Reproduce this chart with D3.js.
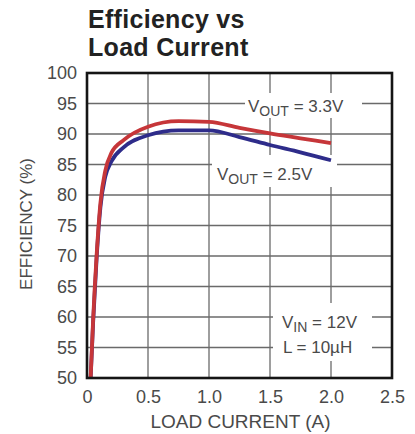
<!DOCTYPE html>
<html>
<head>
<meta charset="utf-8">
<script src="https://cdn.jsdelivr.net/npm/d3@7"></script>
<style>
  body { margin: 0; background: #ffffff; }
  svg text { font-family: "Liberation Sans", Arial, sans-serif; }
</style>
</head>
<body>
<svg id="sketchbook" width="415" height="434"></svg>
<script>
// load current (A) where the curves were read
let current = [0.03, 0.05, 0.08, 0.11, 0.15, 0.2, 0.3, 0.5, 0.75, 1.0, 1.25, 1.5, 1.75, 2.0];
// efficiency (%) for each output
let eff33 = [50, 59.5, 70.5, 78.7, 84.0, 86.9, 89.0, 91.2, 92.1, 92.0, 91.0, 90.1, 89.3, 88.5];
let eff25 = [50, 59.0, 70.0, 78.0, 83.0, 85.5, 87.8, 89.8, 90.6, 90.6, 89.5, 88.2, 87.0, 85.7];
let xTicks = [0, 0.5, 1.0, 1.5, 2.0, 2.5];
let xTickLabels = ['0', '0.5', '1.0', '1.5', '2.0', '2.5'];
let yTicks = [50, 55, 60, 65, 70, 75, 80, 85, 90, 95, 100];
let titleLines = ['Efficiency vs', 'Load Current'];

let svg = d3.select('#sketchbook');
let plot = { left: 87, right: 392, top: 73, bottom: 378 };

let x = d3.scaleLinear().domain([0, 2.5]).range([plot.left, plot.right]);
let y = d3.scaleLinear().domain([50, 100]).range([plot.bottom, plot.top]);

function drawTitle () {
    svg.selectAll('text.title')
        .data(titleLines)
        .enter()
        .append('text')
        .attr('class', 'title')
        .attr('x', 88)
        .attr('y', (d, i) => { return 28 + i * 28; })
        .attr('font-size', 25)
        .attr('font-weight', 'bold')
        .attr('fill', '#222222')
        .attr('letter-spacing', 0.3)
        .text((d) => { return d; });
}

function drawGrid () {
    let g = svg.append('g').attr('class', 'grid');

    g.selectAll('line.vx')
        .data(xTicks.slice(1, -1))
        .enter()
        .append('line')
        .attr('class', 'vx')
        .attr('x1', (d) => { return x(d); })
        .attr('x2', (d) => { return x(d); })
        .attr('y1', plot.top)
        .attr('y2', plot.bottom)
        .attr('stroke', '#6a6a6a')
        .attr('stroke-width', 1.3);

    g.selectAll('line.hy')
        .data(yTicks.slice(1, -1))
        .enter()
        .append('line')
        .attr('class', 'hy')
        .attr('x1', plot.left)
        .attr('x2', plot.right)
        .attr('y1', (d) => { return y(d); })
        .attr('y2', (d) => { return y(d); })
        .attr('stroke', '#6a6a6a')
        .attr('stroke-width', 1.3);
}

function drawAxes () {
    let xAxis = d3.axisBottom(x)
        .tickValues(xTicks)
        .tickFormat((d, i) => { return xTickLabels[i]; })
        .tickSize(0)
        .tickPadding(12);
    let gx = svg.append('g')
        .attr('transform', 'translate(0,' + plot.bottom + ')')
        .call(xAxis);

    let yAxis = d3.axisLeft(y)
        .tickValues(yTicks)
        .tickSize(0)
        .tickPadding(10);
    let gy = svg.append('g')
        .attr('transform', 'translate(' + plot.left + ',0)')
        .call(yAxis);

    [gx, gy].forEach((g) => {
        g.select('.domain').remove();
        g.selectAll('text')
            .attr('font-family', '"Liberation Sans", Arial, sans-serif')
            .attr('font-size', 18)
            .attr('fill', '#4a4a4a');
    });

    svg.append('text')
        .attr('x', (plot.left + plot.right) / 2 + 1)
        .attr('y', 428)
        .attr('text-anchor', 'middle')
        .attr('font-size', 19)
        .attr('fill', '#4a4a4a')
        .text('LOAD CURRENT (A)');

    svg.append('text')
        .attr('transform', 'translate(32,224) rotate(-90)')
        .attr('text-anchor', 'middle')
        .attr('font-size', 17)
        .attr('fill', '#4a4a4a')
        .text('EFFICIENCY (%)');
}

function drawCurves () {
    let line = d3.line()
        .x((d) => { return x(d[0]); })
        .y((d) => { return y(d[1]); })
        .curve(d3.curveMonotoneX);

    let series = [
        { code: 'v25', values: eff25, color: '#2e2c8a' },
        { code: 'v33', values: eff33, color: '#c63639' },
    ];

    svg.selectAll('path.curve')
        .data(series, (d) => { return d.code; })
        .enter()
        .append('path')
        .attr('class', 'curve')
        .attr('d', (d) => { return line(current.map((c, i) => { return [c, d.values[i]]; })); })
        .attr('fill', 'none')
        .attr('stroke', (d) => { return d.color; })
        .attr('stroke-width', 3.8)
        .attr('stroke-linejoin', 'round');
}

function label (bx, by, bw, bh, lines) {
    svg.append('rect')
        .attr('x', bx).attr('y', by)
        .attr('width', bw).attr('height', bh)
        .attr('fill', '#ffffff');
    lines.forEach((ln) => {
        let t = svg.append('text')
            .attr('x', ln.x)
            .attr('y', ln.y)
            .attr('font-size', 17)
            .attr('fill', '#4a4a4a');
        t.append('tspan').text(ln.main);
        if (ln.sub) {
            t.append('tspan')
                .attr('font-size', 14)
                .attr('dy', 4)
                .text(ln.sub);
            t.append('tspan')
                .attr('dy', -4)
                .text(ln.rest);
        }
    });
}

function drawLabels () {
    label(245, 93, 117, 25, [{ x: 248, y: 112, main: 'V', sub: 'OUT', rest: ' = 3.3V' }]);
    label(212, 155, 125, 32, [{ x: 217, y: 180, main: 'V', sub: 'OUT', rest: ' = 2.5V' }]);
    label(273, 303, 99, 58, [
        { x: 282, y: 328, main: 'V', sub: 'IN', rest: ' = 12V' },
        { x: 283, y: 353, main: 'L = 10\u00b5H' },
    ]);
}

function drawFrame () {
    svg.append('rect')
        .attr('x', plot.left)
        .attr('y', plot.top)
        .attr('width', plot.right - plot.left)
        .attr('height', plot.bottom - plot.top)
        .attr('fill', 'none')
        .attr('stroke', '#151515')
        .attr('stroke-width', 2.6);
}

drawTitle();
drawGrid();
drawLabels();
drawCurves();
drawAxes();
drawFrame();
</script>
</body>
</html>
